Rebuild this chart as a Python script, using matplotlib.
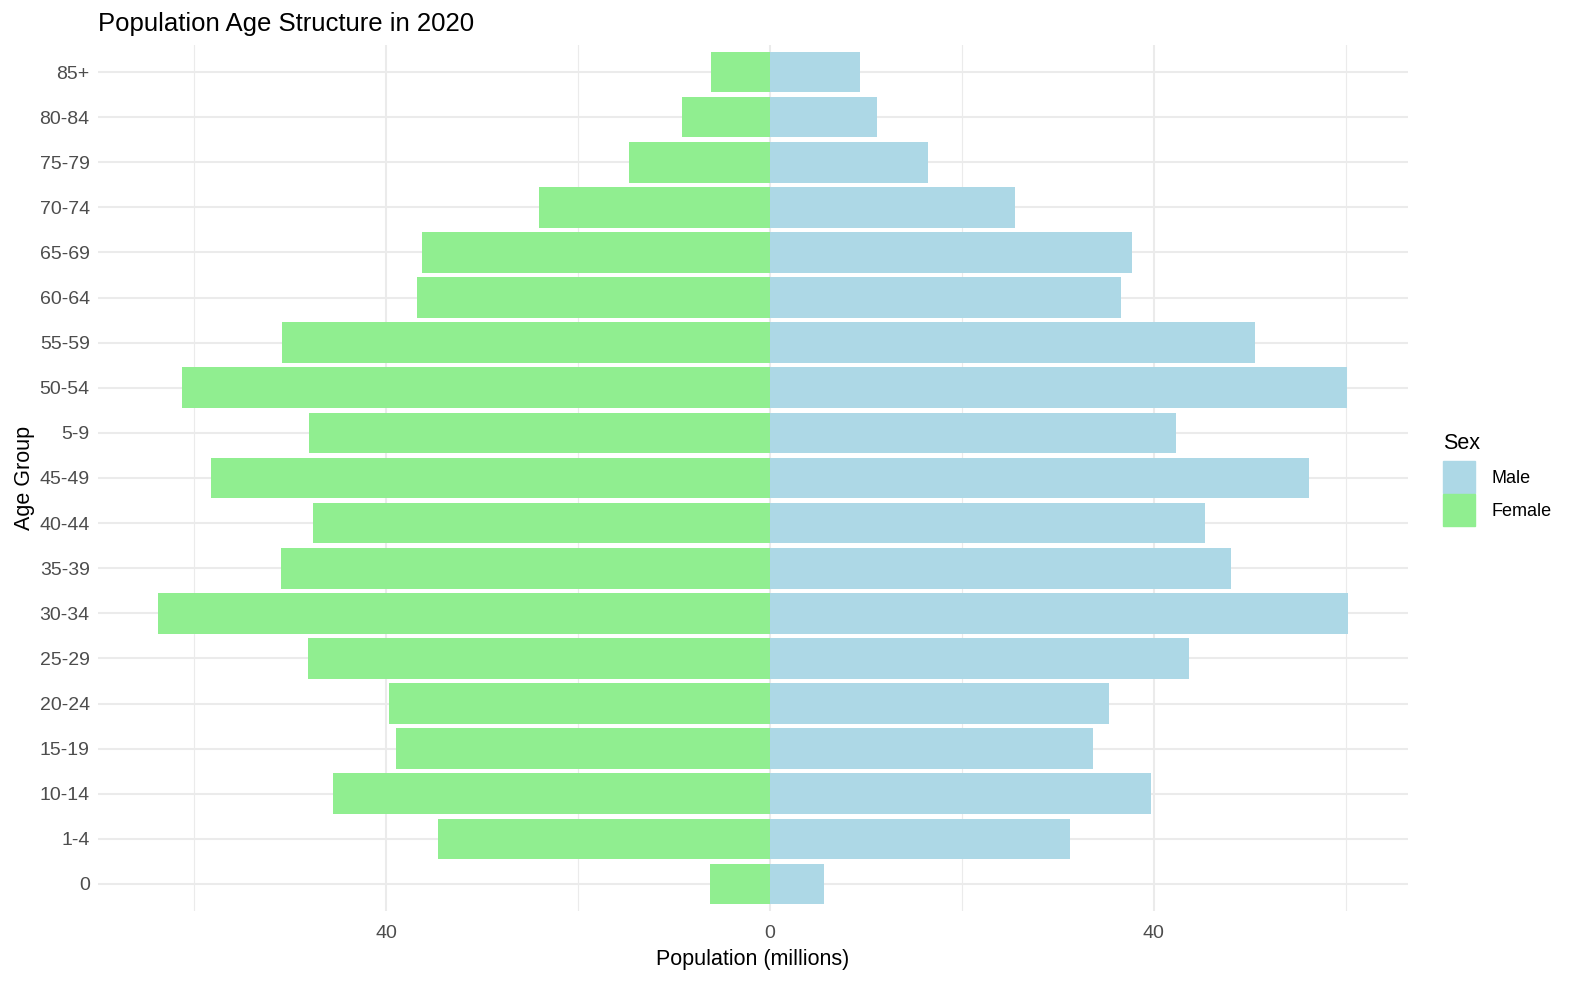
import matplotlib.pyplot as plt
from matplotlib.patches import Patch
import numpy as np

plt.rcParams['font.family'] = ['Liberation Sans', 'DejaVu Sans']

# age groups, bottom to top
age_groups = ["0", "1-4", "10-14", "15-19", "20-24", "25-29", "30-34", "35-39",
              "40-44", "45-49", "5-9", "50-54", "55-59", "60-64", "65-69",
              "70-74", "75-79", "80-84", "85+"]
male = [5.6, 31.3, 39.7, 33.7, 35.3, 43.7, 60.3, 48.1,
        45.3, 56.2, 42.3, 60.1, 50.6, 36.6, 37.7,
        25.5, 16.5, 11.2, 9.4]
female = [6.2, 34.6, 45.5, 39.0, 39.7, 48.1, 63.8, 50.9,
          47.6, 58.2, 48.0, 61.2, 50.8, 36.8, 36.2,
          24.1, 14.7, 9.1, 6.1]

male_col = "#ADD8E6"
female_col = "#90EE90"

fig = plt.figure(figsize=(15.73, 9.81), dpi=100)
ax = fig.add_axes([98 / 1573, 70 / 981, 1310 / 1573, 866 / 981])

y = np.arange(len(age_groups))
ax.barh(y, male, height=0.9, color=male_col, zorder=2)
ax.barh(y, -np.array(female), height=0.9, color=female_col, zorder=2)

lo, hi = -max(female), max(male)
pad = 0.05 * (hi - lo)
ax.set_xlim(lo - pad, hi + pad)
ax.set_ylim(-0.6, len(age_groups) - 0.4)

ax.set_xticks([-40, 0, 40])
ax.set_xticklabels(["40", "0", "40"])
ax.set_xticks([-60, -20, 20, 60], minor=True)
ax.set_yticks(y)
ax.set_yticklabels(age_groups)

ax.grid(True, which='major', color='#EBEBEB', lw=1.5, zorder=0)
ax.grid(True, which='minor', axis='x', color='#EBEBEB', lw=0.8, zorder=0)
ax.set_axisbelow(True)
for s in ax.spines.values():
    s.set_visible(False)
ax.tick_params(which='both', length=0, labelsize=14, labelcolor='#4D4D4D')
ax.tick_params(axis='y', pad=6)
ax.tick_params(axis='x', pad=10)

ax.set_xlabel("Population (millions)", fontsize=15.5, labelpad=5)
ax.set_ylabel("Age Group", fontsize=15.5, labelpad=3)
ax.set_title("Population Age Structure in 2020", fontsize=18.5, loc='left', pad=10)

handles = [Patch(color=male_col, label="Male"), Patch(color=female_col, label="Female")]
leg = fig.legend(handles=handles, title="Sex", loc='upper left',
                 bbox_to_anchor=(1436 / 1573, 1 - 426 / 981), frameon=False,
                 fontsize=13, title_fontsize=15.5, handlelength=1.75, handleheight=2.35,
                 handletextpad=0.9, labelspacing=0.05, borderaxespad=0)
leg._legend_box.align = "left"
leg._legend_box.sep = 5

fig.savefig("out.png", dpi=100)
